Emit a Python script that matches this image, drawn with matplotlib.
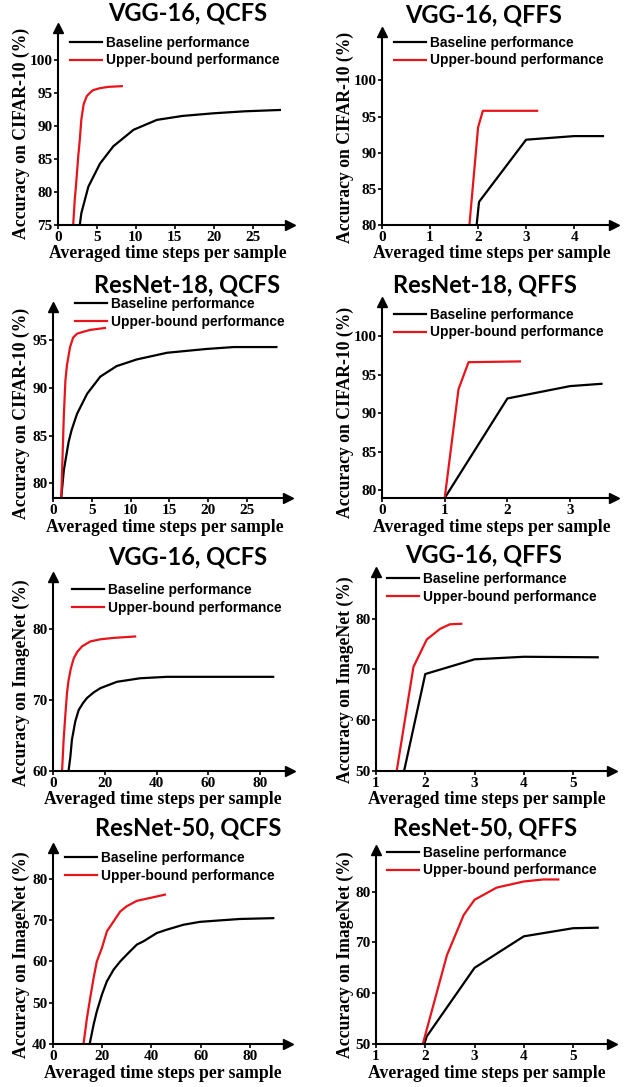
import matplotlib
matplotlib.use("Agg")
import matplotlib.pyplot as plt

# ---- data ----
# CIFAR-10, VGG-16, QCFS
c_vgg_qcfs_base_x = [2.8, 3.0, 3.9, 5.4, 7.1, 9.7, 12.7, 16.0, 20.0, 24.0, 28.5]
c_vgg_qcfs_base_y = [75.0, 76.8, 80.8, 84.3, 86.9, 89.4, 90.9, 91.5, 91.9, 92.2, 92.4]
c_vgg_qcfs_up_x = [1.95, 2.15, 2.3, 2.6, 2.8, 3.0, 3.3, 3.7, 4.1, 4.5, 5.4, 6.5, 8.2]
c_vgg_qcfs_up_y = [75.0, 78.8, 80.8, 85.4, 87.9, 91.0, 93.3, 94.5, 95.0, 95.4, 95.7, 95.9, 96.0]

# CIFAR-10, VGG-16, QFFS
c_vgg_qffs_base_x = [1.97, 2.02, 3.0, 4.0, 4.6]
c_vgg_qffs_base_y = [80.0, 83.2, 91.8, 92.3, 92.3]
c_vgg_qffs_up_x = [1.82, 2.0, 2.1, 3.23]
c_vgg_qffs_up_y = [80.0, 93.5, 95.8, 95.8]

# CIFAR-10, ResNet-18, QCFS
c_res_qcfs_base_x = [1.07, 1.4, 2.0, 2.4, 3.1, 4.4, 6.1, 8.2, 10.8, 14.7, 19.8, 23.3, 28.8]
c_res_qcfs_base_y = [78.6, 81.4, 84.3, 85.6, 87.3, 89.4, 91.2, 92.3, 93.0, 93.7, 94.1, 94.3, 94.3]
c_res_qcfs_up_x = [1.07, 1.4, 1.6, 1.8, 2.2, 2.6, 3.1, 3.9, 4.8, 6.7]
c_res_qcfs_up_y = [78.6, 87.2, 90.8, 92.4, 94.3, 95.3, 95.7, 95.9, 96.1, 96.3]

# CIFAR-10, ResNet-18, QFFS
c_res_qffs_base_x = [1.0, 2.0, 3.0, 3.5]
c_res_qffs_base_y = [79.0, 91.9, 93.5, 93.8]
c_res_qffs_up_x = [1.0, 1.22, 1.38, 2.2]
c_res_qffs_up_y = [79.0, 93.1, 96.6, 96.7]

# ImageNet, VGG-16, QCFS
i_vgg_qcfs_base_x = [6.0, 6.7, 7.3, 8.6, 9.9, 11.6, 13.1, 15.7, 18.3, 24.7, 33.7, 44.0, 85.0]
i_vgg_qcfs_base_y = [60.0, 62.0, 64.4, 67.0, 68.6, 69.6, 70.3, 71.1, 71.7, 72.6, 73.1, 73.3, 73.3]
i_vgg_qcfs_up_x = [3.5, 4.1, 4.8, 5.4, 6.0, 6.9, 8.0, 9.3, 11.2, 14.4, 18.3, 23.4, 31.7]
i_vgg_qcfs_up_y = [60.0, 64.4, 68.1, 71.0, 72.8, 74.5, 75.9, 76.8, 77.6, 78.3, 78.6, 78.8, 79.0]

# ImageNet, VGG-16, QFFS
i_vgg_qffs_base_x = [1.57, 2.0, 3.0, 4.0, 5.5]
i_vgg_qffs_base_y = [50.0, 69.1, 72.0, 72.5, 72.4]
i_vgg_qffs_up_x = [1.42, 1.76, 2.03, 2.3, 2.5, 2.73]
i_vgg_qffs_up_y = [50.0, 70.5, 75.9, 78.0, 78.9, 79.0]

# ImageNet, ResNet-50, QCFS
i_res_qcfs_base_x = [14.9, 16.5, 17.8, 19.9, 21.9, 24.6, 27.3, 30.7, 34.1, 36.8, 42.2, 46.2,
                     53.0, 59.7, 66.5, 76.0, 89.5]
i_res_qcfs_base_y = [40.0, 44.7, 47.9, 52.0, 55.2, 58.0, 60.0, 62.1, 64.1, 64.9, 66.9, 67.7,
                     68.9, 69.6, 69.9, 70.3, 70.5]
i_res_qcfs_up_x = [12.4, 13.8, 15.1, 16.5, 17.8, 19.9, 21.9, 24.6, 27.3, 30.0, 34.1, 39.5, 45.5]
i_res_qcfs_up_y = [40.0, 46.3, 51.1, 56.0, 60.0, 63.3, 67.3, 69.7, 72.1, 73.4, 74.7, 75.4, 76.2]

# ImageNet, ResNet-50, QFFS
i_res_qffs_base_x = [1.98, 2.03, 3.0, 4.0, 5.0, 5.5]
i_res_qffs_base_y = [50.0, 51.5, 65.0, 71.2, 72.8, 72.9]
i_res_qffs_up_x = [1.95, 2.44, 2.78, 3.0, 3.45, 4.0, 4.4, 4.7]
i_res_qffs_up_y = [50.0, 67.5, 75.4, 78.4, 80.8, 82.0, 82.4, 82.4]

titles = ["VGG-16, QCFS", "VGG-16, QFFS", "ResNet-18, QCFS", "ResNet-18, QFFS",
          "VGG-16, QCFS", "VGG-16, QFFS", "ResNet-50, QCFS", "ResNet-50, QFFS"]
ylabels = ["Accuracy on CIFAR-10 (%)"] * 4 + ["Accuracy on ImageNet (%)"] * 4
xlabel = "Averaged time steps per sample"
legend_labels = ["Baseline performance", "Upper-bound performance"]

W, H = 634, 1087
fig = plt.figure(figsize=(W / 100, H / 100), dpi=100)

serif = "Liberation Serif"


def px_axes(left, top, right, bottom):
    return fig.add_axes([left / W, 1 - bottom / H, (right - left) / W, (bottom - top) / H])


panels = [
    # box px (l, t, r, b), limits, ticks, data, title / label / legend positions in px
    dict(box=(58, 28, 290, 225), xlim=(0, 29.8), ylim=(75, 104.8),
         xt=[0, 5, 10, 15, 20, 25], yt=[75, 80, 85, 90, 95, 100],
         base=(c_vgg_qcfs_base_x, c_vgg_qcfs_base_y), up=(c_vgg_qcfs_up_x, c_vgg_qcfs_up_y),
         tpos=(188, 13), xl=(168, 253), yl=(21, 133), leg=(70, 51.5)),
    dict(box=(382, 32, 614, 225), xlim=(0, 4.83), ylim=(80, 106.7),
         xt=[0, 1, 2, 3, 4], yt=[80, 85, 90, 95, 100],
         base=(c_vgg_qffs_base_x, c_vgg_qffs_base_y), up=(c_vgg_qffs_up_x, c_vgg_qffs_up_y),
         tpos=(484, 15), xl=(492, 253), yl=(345, 137), leg=(394, 51.5)),
    dict(box=(53, 307, 288, 498), xlim=(0, 30.3), ylim=(78.47, 98.5),
         xt=[0, 5, 10, 15, 20, 25], yt=[80, 85, 90, 95],
         base=(c_res_qcfs_base_x, c_res_qcfs_base_y), up=(c_res_qcfs_up_x, c_res_qcfs_up_y),
         tpos=(187, 285), xl=(165, 527), yl=(21, 413), leg=(75, 313)),
    dict(box=(382, 302, 614, 498), xlim=(0, 3.7), ylim=(79.0, 104.4),
         xt=[0, 1, 2, 3], yt=[80, 85, 90, 95, 100],
         base=(c_res_qffs_base_x, c_res_qffs_base_y), up=(c_res_qffs_up_x, c_res_qffs_up_y),
         tpos=(485, 285), xl=(492, 527), yl=(345, 412), leg=(394, 323.5)),
    dict(box=(53, 577, 290, 771), xlim=(0, 91.5), ylim=(60, 87.4),
         xt=[0, 20, 40, 60, 80], yt=[60, 70, 80],
         base=(i_vgg_qcfs_base_x, i_vgg_qcfs_base_y), up=(i_vgg_qcfs_up_x, i_vgg_qcfs_up_y),
         tpos=(188, 557), xl=(163, 800), yl=(21, 683), leg=(72, 599)),
    dict(box=(376, 572, 612, 771), xlim=(1, 5.79), ylim=(50, 89.2),
         xt=[1, 2, 3, 4, 5], yt=[50, 60, 70, 80],
         base=(i_vgg_qffs_base_x, i_vgg_qffs_base_y), up=(i_vgg_qffs_up_x, i_vgg_qffs_up_y),
         tpos=(484, 555), xl=(487, 800), yl=(345, 680), leg=(387, 588)),
    dict(box=(53, 848, 288, 1044), xlim=(0, 95.5), ylim=(40, 87.5),
         xt=[0, 20, 40, 60, 80], yt=[40, 50, 60, 70, 80],
         base=(i_res_qcfs_base_x, i_res_qcfs_base_y), up=(i_res_qcfs_up_x, i_res_qcfs_up_y),
         tpos=(188, 828), xl=(163, 1073), yl=(21, 955), leg=(65, 867)),
    dict(box=(376, 850, 612, 1044), xlim=(1, 5.79), ylim=(50, 88.2),
         xt=[1, 2, 3, 4, 5], yt=[50, 60, 70, 80],
         base=(i_res_qffs_base_x, i_res_qffs_base_y), up=(i_res_qffs_up_x, i_res_qffs_up_y),
         tpos=(485, 828), xl=(487, 1073), yl=(345, 955), leg=(387, 861.5)),
]

for i, p in enumerate(panels):
    l, t, r, b = p["box"]
    ax = px_axes(l, t, r, b)
    lb, = ax.plot(*p["base"], color="black", lw=1.6, label=legend_labels[0])
    lu, = ax.plot(*p["up"], color="#e8141b", lw=1.6, label=legend_labels[1])
    ax.set_xlim(*p["xlim"])
    ax.set_ylim(*p["ylim"])
    ax.set_xticks(p["xt"])
    ax.set_yticks(p["yt"])
    for s in ["top", "right"]:
        ax.spines[s].set_visible(False)
    for s in ["left", "bottom"]:
        ax.spines[s].set_linewidth(1.5)
    ax.plot(1, 0, ">k", ms=7, transform=ax.transAxes, clip_on=False)
    ax.plot(0, 1, "^k", ms=7, transform=ax.transAxes, clip_on=False)
    ax.tick_params(direction="out", length=3, width=1.2, pad=1)
    for lab in ax.get_xticklabels() + ax.get_yticklabels():
        lab.set_fontfamily(serif)
        lab.set_fontweight("bold")
        lab.set_fontsize(11)
    ax.patch.set_alpha(0)

    # axis labels
    ax.set_xlabel(xlabel, fontfamily=serif, fontweight="bold", fontsize=12.7, va="center")
    ax.xaxis.set_label_coords((p["xl"][0] - l) / (r - l), (b - p["xl"][1]) / (b - t))
    ax.set_ylabel(ylabels[i], fontfamily=serif, fontweight="bold", fontsize=12.7, va="center")
    ax.yaxis.set_label_coords((p["yl"][0] - l) / (r - l), (b - p["yl"][1]) / (b - t))

    # legend
    lx, ly = p["leg"]
    ax.legend(handles=[lb, lu], loc="center left",
              bbox_to_anchor=(lx / W, 1 - ly / H), bbox_transform=fig.transFigure,
              frameon=False, borderpad=0, borderaxespad=0, handlelength=2.3,
              handletextpad=0.3, labelspacing=0.28,
              prop=dict(family="Liberation Sans", size=9.9, weight="bold"))

    # title
    fig.text(p["tpos"][0] / W, 1 - p["tpos"][1] / H, titles[i], ha="center", va="center",
             fontfamily="Lato", fontweight="bold", fontsize=17)

fig.savefig("out.png", dpi=100)
